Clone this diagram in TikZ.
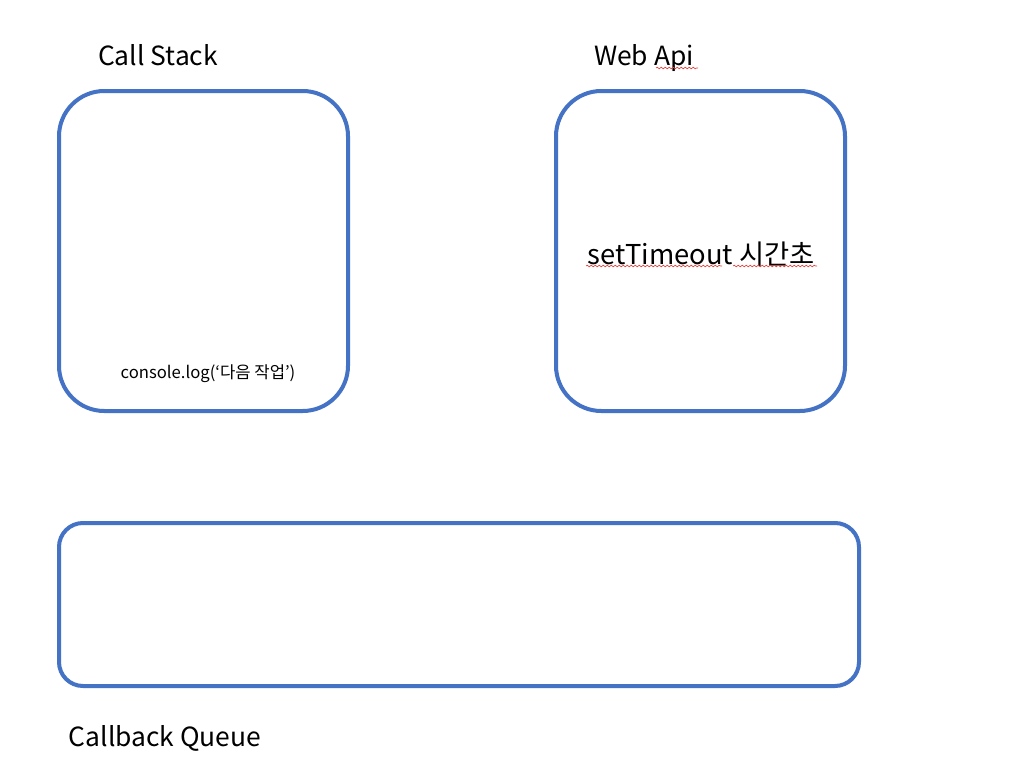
\documentclass[tikz,border=0pt]{standalone}
\usepackage{fontspec}
\setmainfont{Noto Sans CJK KR}
\usetikzlibrary{decorations.pathmorphing}
\definecolor{boxblue}{HTML}{4472C4}
\definecolor{spellred}{HTML}{E8403A}
\tikzset{
  panel/.style={draw=boxblue, line width=3pt, fill=white},
  label/.style={inner sep=0pt, anchor=base, text=black},
  spell/.style={draw=spellred, line width=0.5pt, decorate, decoration={snake, amplitude=0.6pt, segment length=3pt}}
}
\begin{document}
\begin{tikzpicture}[x=0.75pt, y=-0.75pt]
\useasboundingbox[fill=white] (0,0) rectangle (1021,778);
% boxes
\draw[panel, rounded corners=34pt] (59,91) rectangle (348,411);
\draw[panel, rounded corners=34pt] (556,91) rectangle (845,411);
\draw[panel, rounded corners=18pt] (59,523) rectangle (859,686);
% titles
\node[label, font=\fontsize{19.8}{24}\selectfont] (cs) at (158,65) {Call Stack};
\node[label, font=\fontsize{19.8}{24}\selectfont] (wa) at (644,65) {Web Api};
\node[label, font=\fontsize{19.8}{24}\selectfont] (cq) at (165,746) {Callback Queue};
% contents
\node[label, font=\fontsize{20.5}{25}\selectfont] (st) at (701,264) {setTimeout 시간초};
\node[label, font=\fontsize{12.5}{15}\selectfont] (cl) at (208,378) {console.log(‘다음 작업’)};
% spell-check underlines
\coordinate (u1a) at (656,68); \coordinate (u1b) at (698,68);
\coordinate (u2a) at (586,266); \coordinate (u2b) at (722,266);
\coordinate (u3a) at (733,266); \coordinate (u3b) at (817,266);
\draw[spell] (u1a) -- (u1b);
\draw[spell] (u2a) -- (u2b);
\draw[spell] (u3a) -- (u3b);
\end{tikzpicture}
\end{document}
